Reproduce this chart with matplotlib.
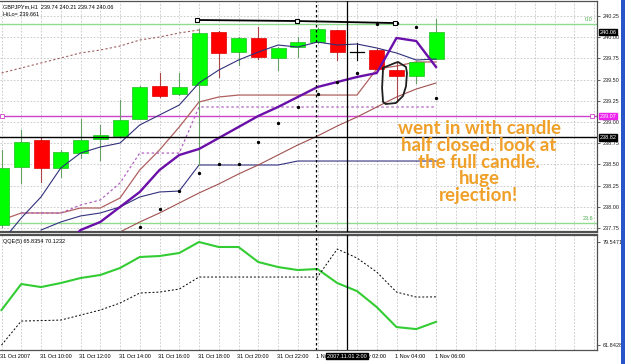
import matplotlib
matplotlib.use('Agg')
import matplotlib.pyplot as plt
import matplotlib.transforms as mtransforms
from matplotlib.patches import Rectangle, Polygon

plt.rcParams['font.family'] = ['Liberation Sans', 'DejaVu Sans']

W, H = 625, 364

# ---------------- data ----------------
bars = list(range(23))
time_labels = ["31 Oct 2007", "31 Oct 10:00", "31 Oct 12:00", "31 Oct 14:00", "31 Oct 16:00",
               "31 Oct 18:00", "31 Oct 20:00", "31 Oct 22:00", "1 Nov 00:00", "1 Nov 02:00",
               "1 Nov 04:00", "1 Nov 06:00"]
time_label_bars = [0, 2, 4, 6, 8, 10, 12, 14, 16, 18, 20, 22]

opens  = [237.79, 238.469, 238.788, 238.458, 238.634, 238.800, 238.835, 239.035, 239.425, 239.330,
          239.436, 240.061, 239.825, 239.991, 239.755, 239.884, 239.943, 240.085, 239.825, 239.849,
          239.613, 239.542, 239.74]
highs  = [238.670, 238.906, 238.820, 238.670, 239.040, 238.965, 239.259, 239.420, 239.578, 239.578,
          240.100, 240.070, 240.000, 240.120, 239.880, 240.002, 240.110, 240.090, 239.932, 239.860,
          239.708, 239.720, 240.21]
lows   = [237.760, 238.281, 238.293, 238.351, 238.575, 238.552, 238.835, 239.030, 239.300, 239.320,
          238.493, 239.531, 239.672, 239.743, 239.613, 239.767, 239.930, 239.731, 239.731, 239.610,
          239.236, 239.460, 239.74]
closes = [238.458, 238.764, 238.458, 238.646, 238.788, 238.847, 239.024, 239.413, 239.307, 239.413,
          240.050, 239.814, 239.991, 239.767, 239.873, 239.943, 240.097, 239.825, 239.825, 239.625,
          239.542, 239.708, 240.06]

ma_fast = [237.585, 237.868, 238.116, 238.458, 238.634, 238.705, 238.752, 238.965, 239.083, 239.200,
           239.460, 239.613, 239.731, 239.825, 239.908, 239.884, 239.943, 239.908, 239.920, 239.873,
           239.814, 239.731, 239.743]
purple_bars = list(range(3, 23))
purple_vals = [237.491, 237.726, 237.821, 237.998, 238.175, 238.434, 238.611, 238.682, 238.811, 238.941,
               239.071, 239.177, 239.295, 239.413, 239.472, 239.531, 239.578, 239.991, 239.955, 239.649]
brown_vals = [237.844, 237.927, 237.927, 237.927, 237.986, 237.986, 238.104, 238.434, 238.670, 238.941,
              239.236, 239.295, 239.318, 239.318, 239.318, 239.318, 239.318, 239.318, 239.318, 239.625,
              239.660, 239.708, 239.708]
dpurple_bars = list(range(1, 23))
dpurple_vals = [237.927, 237.927, 237.927, 238.021, 238.080, 238.281, 238.634, 238.634, 238.634, 239.177,
                239.177, 239.177, 239.177, 239.177, 239.177, 239.177, 239.177, 239.177, 239.177, 239.177,
                239.177, 239.177]
navy2_bars = list(range(2, 23))
navy2_vals = [237.726, 237.821, 237.892, 237.927, 237.998, 238.116, 238.175, 238.186, 238.493, 238.493,
              238.493, 238.493, 238.493, 238.540, 238.540, 238.540, 238.540, 238.540, 238.540, 238.540,
              238.540]
brown2_bars = list(range(6, 23))
brown2_vals = [237.703, 237.821, 237.927, 238.045, 238.163, 238.269, 238.387, 238.493, 238.611, 238.729,
               238.835, 238.953, 239.059, 239.177, 239.295, 239.389, 239.460]
udash_bars = list(range(0, 11))
udash_vals = [239.578, 239.637, 239.696, 239.755, 239.814, 239.849, 239.896, 239.967, 240.002, 240.050, 240.085]
sar_bars = list(range(7, 23))
sar_vals = [237.762, 237.974, 238.186, 238.399, 238.505, 238.505, 238.764, 238.988, 239.177, 239.330,
            239.472, 239.578, 240.156, 240.167, 240.120, 239.283]

trend_x = [9.9, 14.96, 19.92]
trend_y = [240.203, 240.191, 240.167]

fib_0 = 240.156
fib_236 = 237.81
magenta_level = 239.07
cross_price = 238.82
cross_bar = 17.49
day_sep_bar = 15.93
last_price = 240.06

lasso_x = [19.32, 19.27, 19.32, 19.45, 19.97, 20.33, 20.48, 20.53, 20.48, 20.08, 19.92, 19.67, 19.42, 19.32]
lasso_y = [239.637, 239.40, 239.236, 239.212, 239.224, 239.307, 239.42, 239.578, 239.649, 239.708,
           239.696, 239.672, 239.649, 239.637]

qqe_rsi = [67.86, 72.33, 71.81, 72.50, 73.36, 73.88, 75.08, 76.97, 77.14, 77.66, 79.5471, 78.69, 78.69,
           76.11, 75.25, 74.73, 74.91, 72.50, 71.12, 68.37, 64.94, 64.59, 65.8354]
qqe_trail = [61.8428, 65.97, 66.05, 66.14, 67.00, 67.86, 69.06, 70.78, 70.95, 71.47, 73.53, 73.53, 73.53,
             73.53, 73.53, 73.53, 73.53, 78.34, 76.80, 74.39, 70.95, 70.09, 70.1232]

price_ticks = [237.75, 238.00, 238.25, 238.50, 238.75, 239.00, 239.25, 239.50, 239.75, 240.00, 240.25]

# ---------------- figure ----------------
fig = plt.figure(figsize=(W / 100, H / 100), dpi=100)
fig.patch.set_facecolor('white')

def fx(px): return px / W
def fy(py): return 1 - py / H

ax1 = fig.add_axes([0, fy(232), fx(597), (232 - 1) / H])
ax2 = fig.add_axes([0, fy(350), fx(597), (350 - 235) / H])

xlim = (-1.5 / 19.75, (597 - 1.5) / 19.75)
for ax in (ax1, ax2):
    ax.set_xlim(*xlim)
    ax.set_facecolor('white')
    for b in range(0, 31):
        ax.axvline(b, color='#c4c4c4', lw=0.6, ls=(0, (2, 2)), zorder=0)
    for s in ('left',):
        ax.spines[s].set_visible(False)
    for s in ('top', 'right', 'bottom'):
        ax.spines[s].set_color('#505050')
        ax.spines[s].set_linewidth(0.9)
    ax.set_xticks([])
    ax.yaxis.tick_right()
    ax.tick_params(axis='y', length=2.5, width=0.5, labelsize=4, pad=1.5, colors='#202020')

ax1.spines['bottom'].set_linewidth(1.6)
ax2.spines['top'].set_linewidth(1.6)

ax1.set_ylim(237.703, 240.427)
ax1.set_yticks(price_ticks)
ax1.set_yticklabels([f"{v:.2f}" for v in price_ticks])
for v in price_ticks:
    ax1.axhline(v, color='#c4c4c4', lw=0.6, ls=(0, (2, 2)), zorder=0)

ax2.set_ylim(61.0, 80.75)
ax2.set_yticks([79.5471, 61.8428])
ax2.set_yticklabels(["79.5471", "61.8428"])

# horizontal objects
ax1.axhline(fib_0, color='#8fdc8f', lw=1.0, zorder=1)
ax1.axhline(fib_236, color='#8fdc8f', lw=1.0, zorder=1)
ax1.text(0.993, fib_0 + 0.02, "0.0", transform=mtransforms.blended_transform_factory(ax1.transAxes, ax1.transData),
         fontsize=4, color='#44aa44', ha='right', va='bottom')
ax1.text(0.993, fib_236 + 0.02, "23.6", transform=mtransforms.blended_transform_factory(ax1.transAxes, ax1.transData),
         fontsize=4, color='#44aa44', ha='right', va='bottom')
ax1.axhline(magenta_level, color='#cc44cc', lw=1.0, zorder=1)
ax1.plot([0.05, 29.9], [magenta_level, magenta_level], ls='none', marker='s', ms=2.5,
         mfc='white', mec='#cc44cc', mew=0.6, zorder=2)
ax1.axhline(cross_price, color='black', lw=1.0, zorder=6)

# vertical lines
for ax in (ax1, ax2):
    ax.axvline(day_sep_bar, color='black', lw=0.9, ls=(0, (2, 2)), zorder=6)
    ax.axvline(cross_bar, color='black', lw=0.9, zorder=6)

# indicator lines
ax1.plot(udash_bars, udash_vals, color='#a06060', lw=0.8, ls=(0, (2, 2)), zorder=2)
ax1.plot(bars, brown_vals, color='#b06060', lw=0.9, zorder=2)
ax1.plot(dpurple_bars, dpurple_vals, color='#b060c0', lw=0.9, ls=(0, (2, 2)), zorder=2)
ax1.plot(navy2_bars, navy2_vals, color='#333380', lw=0.8, zorder=2)
ax1.plot(brown2_bars, brown2_vals, color='#a05050', lw=0.8, zorder=2)
ax1.plot(bars, ma_fast, color='#30307a', lw=0.8, zorder=4)
ax1.plot(purple_bars, purple_vals, color='#6a10a8', lw=1.7, zorder=4)
ax1.plot(sar_bars, sar_vals, ls='none', marker='o', ms=1.4, color='black', zorder=5)

# trendline
ax1.plot(trend_x, trend_y, color='black', lw=1.3, zorder=5)
ax1.plot(trend_x, trend_y, ls='none', marker='s', ms=3, mfc='white', mec='black', mew=0.8, zorder=6)

# candles
bw = 15 / 19.75
for i, o, h, l, c in zip(bars, opens, highs, lows, closes):
    if c > o:
        body, edge, wick = '#00ff00', '#22bb22', '#66a066'
    elif c < o:
        body, edge, wick = '#ff0000', '#dd0000', '#aa4444'
    else:
        body, edge, wick = None, 'black', 'black'
    ax1.plot([i, i], [l, h], color=wick, lw=0.8, zorder=3)
    if body is None:
        ax1.plot([i - bw / 2, i + bw / 2], [o, o], color='black', lw=0.9, zorder=3)
    else:
        ax1.add_patch(Rectangle((i - bw / 2, min(o, c)), bw, abs(c - o), facecolor=body,
                                edgecolor=edge, lw=0.5, zorder=3))

# lasso
ax1.plot(lasso_x, lasso_y, color='#202020', lw=1.3, zorder=7)

# price label boxes
btr = mtransforms.blended_transform_factory(ax1.transAxes, ax1.transData)
for val, bg in ((last_price, 'black'), (magenta_level, '#ee22ee'), (cross_price, 'black')):
    ax1.text(1.004, val, f"{val:.2f}", transform=btr, fontsize=4, color='white', ha='left', va='center',
             bbox=dict(boxstyle='square,pad=0.15', fc=bg, ec=bg), zorder=10, clip_on=False)

# annotation
fig.text(fx(479), fy(162), "went in with candle\nhalf closed. look at\nthe full candle.\nhuge\nrejection!",
         ha='center', va='center', fontsize=13.5, fontweight='bold', color='#f0a028',
         linespacing=0.98, family=['Lato', 'DejaVu Sans'])

# titles
ax1.text(fx(3) / fx(597), fy(7), "GBPJPYm,H1  239.74 240.21 239.74 240.06", transform=mtransforms.blended_transform_factory(ax1.transAxes, fig.transFigure),
         fontsize=4, ha='left', va='center', color='black')
ax1.text(fx(3) / fx(597), fy(15), "HiLo= 239.661", transform=mtransforms.blended_transform_factory(ax1.transAxes, fig.transFigure),
         fontsize=4, ha='left', va='center', color='black')

# QQE panel
ax2.plot(bars, qqe_rsi, color='#33cc33', lw=1.5, zorder=3)
ax2.plot(bars, qqe_trail, color='black', lw=0.7, ls=(0, (2, 2)), zorder=3)
ax2.text(fx(3) / fx(597), fy(242), "QQE(5) 65.8354 70.1232",
         transform=mtransforms.blended_transform_factory(ax2.transAxes, fig.transFigure),
         fontsize=4, ha='left', va='center', color='black')

# time labels
ttr = mtransforms.blended_transform_factory(ax2.transData, fig.transFigure)
for b, lab in zip(time_label_bars, time_labels):
    ax2.text(b - 0.07, fy(356), lab, transform=ttr, fontsize=4, ha='left', va='center', color='black',
             clip_on=False, zorder=1)
ax2.text(cross_bar, fy(356), "2007.11.01 2:00", transform=ttr, fontsize=4, ha='center', va='center',
         color='white', bbox=dict(boxstyle='square,pad=0.15', fc='black', ec='black'), clip_on=False, zorder=10)

# window frame on right
fig.patches.append(Rectangle((fx(621), 0), fx(4), 1, transform=fig.transFigure, facecolor='#2a55c8',
                             edgecolor='none', zorder=20))

fig.savefig('out.png', dpi=100)
